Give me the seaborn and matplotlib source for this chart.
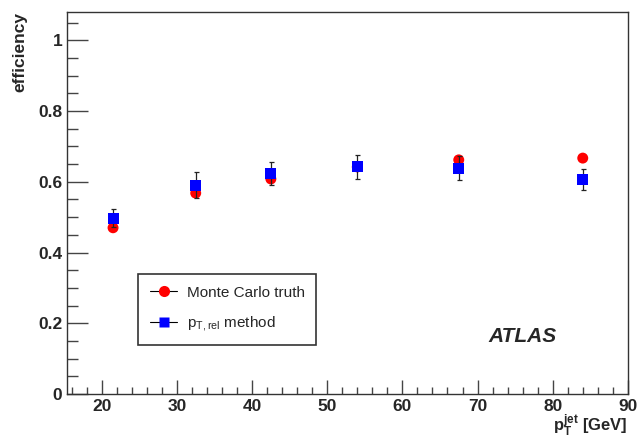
import numpy as np
import pandas as pd
import matplotlib
matplotlib.use("Agg")
import matplotlib.pyplot as plt
import seaborn as sns
from matplotlib.lines import Line2D
from matplotlib.ticker import MultipleLocator

# bin centres in jet pT [GeV]
pt_jet = [21.5, 32.5, 42.5, 54.0, 67.5, 84.0]
# Monte Carlo truth efficiency
eff_mc = [0.470, 0.568, 0.608, 0.642, 0.662, 0.667]
# pT,rel method efficiency and its uncertainty
eff_ptrel = [0.497, 0.590, 0.623, 0.642, 0.638, 0.607]
err_ptrel = [0.025, 0.037, 0.033, 0.035, 0.034, 0.030]

sns.set_style("ticks")
plt.rcParams['font.family'] = ['Liberation Sans', 'DejaVu Sans']
plt.rcParams['mathtext.fontset'] = 'custom'
plt.rcParams['mathtext.rm'] = 'Liberation Sans'
plt.rcParams['mathtext.bf'] = 'Liberation Sans:bold'

df_mc = pd.DataFrame({'pt': pt_jet, 'eff': eff_mc})
df_rel = pd.DataFrame({'pt': pt_jet, 'eff': eff_ptrel, 'err': err_ptrel})

fig = plt.figure(figsize=(6.4, 4.38), dpi=100)
ax = fig.add_axes([0.105, 0.1005, 0.876, 0.872])

# red circles: MC truth
sns.scatterplot(data=df_mc, x='pt', y='eff', ax=ax, marker='o', s=62,
                color='#ff0000', edgecolor='none', zorder=3, legend=False)
# error bars then blue squares for pT,rel method
ax.errorbar(df_rel['pt'], df_rel['eff'], yerr=df_rel['err'], fmt='none',
            ecolor='#222222', elinewidth=0.9, capsize=1.8, capthick=0.9, zorder=4)
sns.scatterplot(data=df_rel, x='pt', y='eff', ax=ax, marker='s', s=62,
                color='#0000ff', edgecolor='none', zorder=5, legend=False)

ax.set_xlim(15.4, 90)
ax.set_ylim(0, 1.08)
ax.xaxis.set_major_locator(MultipleLocator(10))
ax.xaxis.set_minor_locator(MultipleLocator(2))
ax.yaxis.set_major_locator(MultipleLocator(0.2))
ax.yaxis.set_minor_locator(MultipleLocator(0.05))
ax.tick_params(axis='both', which='both', direction='in', color='#444444',
               top=False, right=False)
ax.tick_params(axis='y', which='major', length=15, width=1)
ax.tick_params(axis='y', which='minor', length=8, width=1)
ax.tick_params(axis='x', which='major', length=10, width=1)
ax.tick_params(axis='x', which='minor', length=5, width=1)
ax.set_yticks([0, 0.2, 0.4, 0.6, 0.8, 1.0])
ax.set_yticklabels(['0', '0.2', '0.4', '0.6', '0.8', '1'])
for lab in ax.get_xticklabels() + ax.get_yticklabels():
    lab.set_fontsize(12.5)
    lab.set_fontweight('bold')
for sp in ax.spines.values():
    sp.set_color('#333333')
    sp.set_linewidth(1)

ax.set_xlabel(r'$\mathbf{p}_{\mathbf{T}}^{\mathbf{jet}}$ [GeV]', fontsize=12,
              fontweight='bold', loc='right', labelpad=-1)
ax.set_ylabel('efficiency', fontsize=12.5, fontweight='bold', loc='top',
              labelpad=8)

handles = [
    Line2D([], [], color='black', lw=0.8, marker='o', markersize=8,
           markerfacecolor='#ff0000', markeredgecolor='none'),
    Line2D([], [], color='black', lw=0.8, marker='s', markersize=7.5,
           markerfacecolor='#0000ff', markeredgecolor='none'),
]
labels = ['Monte Carlo truth', r'p$_{\mathrm{T,rel}}$ method']
leg = ax.legend(handles, labels, loc='lower left', bbox_to_anchor=(0.127, 0.128),
                fontsize=11, frameon=True, fancybox=False, borderpad=0.75,
                handlelength=1.8, handletextpad=0.6, labelspacing=0.95,
                borderaxespad=0)
leg.get_frame().set_edgecolor('black')
leg.get_frame().set_linewidth(1.2)

ax.text(0.752, 0.135, 'ATLAS', transform=ax.transAxes, fontsize=15,
        fontweight='bold', fontstyle='italic')

fig.savefig('out.png', dpi=100)
